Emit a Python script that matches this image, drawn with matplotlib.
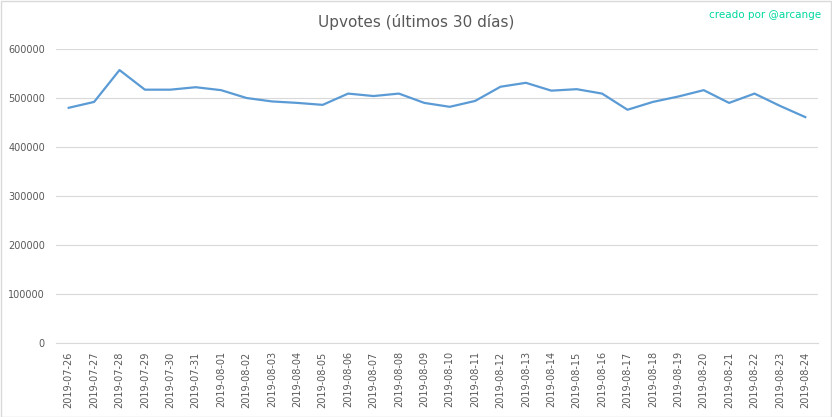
import matplotlib
matplotlib.use("Agg")
import matplotlib.pyplot as plt
from matplotlib.patches import Rectangle

dates = ["2019-07-26", "2019-07-27", "2019-07-28", "2019-07-29", "2019-07-30",
         "2019-07-31", "2019-08-01", "2019-08-02", "2019-08-03", "2019-08-04",
         "2019-08-05", "2019-08-06", "2019-08-07", "2019-08-08", "2019-08-09",
         "2019-08-10", "2019-08-11", "2019-08-12", "2019-08-13", "2019-08-14",
         "2019-08-15", "2019-08-16", "2019-08-17", "2019-08-18", "2019-08-19",
         "2019-08-20", "2019-08-21", "2019-08-22", "2019-08-23", "2019-08-24"]
upvotes = [480000, 492000, 557000, 517000, 517000, 522000, 516000, 500000, 493000, 490000,
           486000, 509000, 504000, 509000, 490000, 482000, 494000, 523000, 531000, 515000,
           518000, 509000, 476000, 492000, 503000, 516000, 490000, 509000, 484000, 461000]
yticks = [0, 100000, 200000, 300000, 400000, 500000, 600000]

W, H = 832, 417
fig = plt.figure(figsize=(W / 100, H / 100), dpi=100)
ax = fig.add_axes([56 / W, 1 - 343 / H, (818 - 56) / W, (343 - 49) / H])

x = list(range(len(dates)))
ax.plot(x, upvotes, color="#5B9BD5", linewidth=1.6, solid_joinstyle="round")
ax.set_xlim(-0.5, len(dates) - 0.5)
ax.set_ylim(0, 600000)
ax.set_yticks(yticks)
ax.set_yticklabels([str(v) for v in yticks])
ax.set_xticks(x)
ax.set_xticklabels(dates, rotation=90)
ax.grid(axis="y", color="#d9d9d9", linewidth=0.8)
ax.set_axisbelow(True)
for s in ["top", "right", "left"]:
    ax.spines[s].set_visible(False)
ax.spines["bottom"].set_color("#d9d9d9")
ax.tick_params(axis="both", length=0, labelsize=7, colors="#595959", pad=6)
ax.tick_params(axis="y", pad=8)

fig.text(0.5, 1 - 22 / H, "Upvotes (últimos 30 días)", ha="center", va="center",
         fontsize=11, color="#595959")
fig.text(1 - 11 / W, 1 - 15 / H, "creado por @arcange", ha="right", va="center",
         fontsize=7.5, color="#00d8a0")

fig.patches.append(Rectangle((0.5 / W, 0.5 / H), 1 - 1.5 / W, 1 - 1.5 / H,
                             transform=fig.transFigure, fill=False,
                             edgecolor="#d9d9d9", linewidth=1))
fig.savefig("out.png", dpi=100, facecolor="white")
